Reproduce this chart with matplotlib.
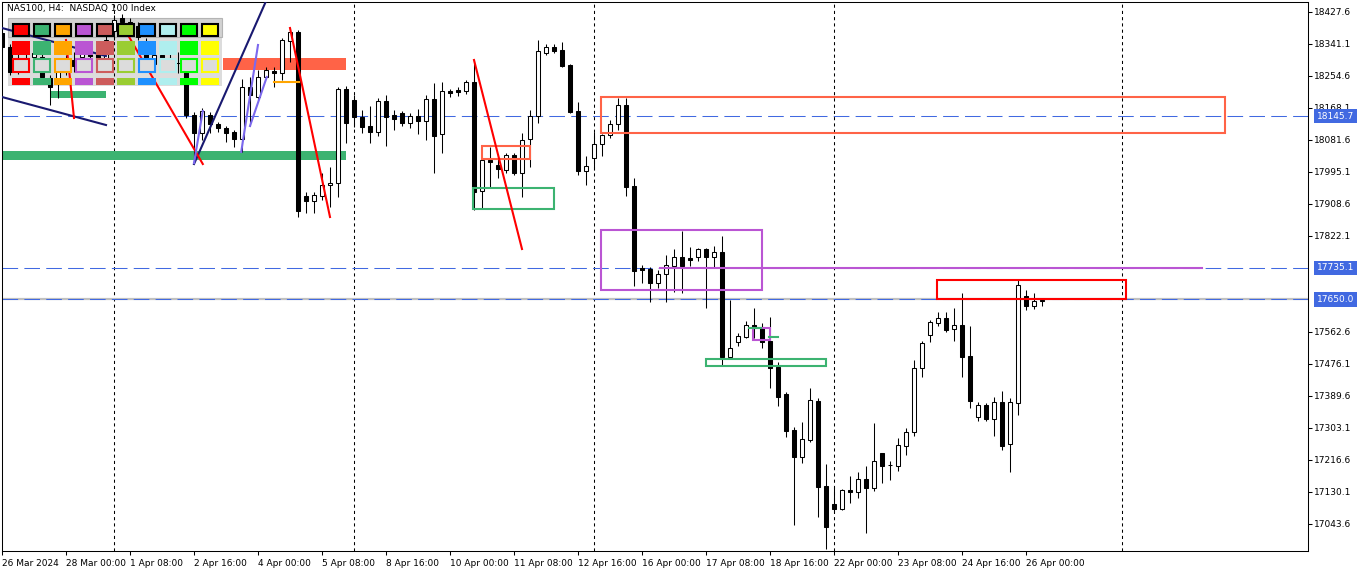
import matplotlib
matplotlib.use("Agg")
import matplotlib.pyplot as plt
from matplotlib.patches import Rectangle
import numpy as np

title = "NAS100, H4:  NASDAQ 100 Index"

# H4 candles, bar 0 = 26 Mar 2024 16:00
opens = [
    18370.3, 18332.5, 18270.3, 18302.7, 18305.4, 18305.4, 18248.7, 18235.2, 18264.9, 18297.3,
    18305.4, 18316.2, 18316.2, 18302.7, 18375.7, 18410.9, 18400.0, 18389.2, 18343.3, 18286.5,
    18310.8, 18291.9, 18289.2, 18264.9, 18148.7, 18100.0, 18148.7, 18124.3, 18113.5, 18102.7,
    18083.8, 18224.3, 18197.3, 18251.4, 18267.6, 18262.2, 18348.7, 18373.0, 17929.7, 17916.2,
    17929.7, 17959.4, 17964.9, 18218.9, 18189.2, 18143.2, 18118.9, 18102.7, 18186.5, 18148.7,
    18154.1, 18127.0, 18146.0, 18132.4, 18191.9, 18097.3, 18213.5, 18216.2, 18213.5, 18237.9,
    17943.2, 18027.0, 18013.5, 18000.0, 18040.5, 17991.9, 18083.8, 18146.0, 18316.2, 18332.5,
    18324.3, 18283.8, 18159.5, 17997.3, 18032.4, 18070.3, 18094.6, 18124.3, 18175.7, 17956.7,
    17735.1, 17732.4, 17694.5, 17718.9, 17740.5, 17764.8, 17762.1, 17764.8, 17786.5, 17764.8,
    17778.3, 17494.5, 17535.1, 17548.6, 17581.0, 17575.6, 17537.8, 17467.5, 17394.5, 17297.2,
    17224.2, 17270.2, 17375.6, 17145.8, 17097.2, 17083.7, 17135.0, 17129.6, 17164.8, 17140.4,
    17235.0, 17202.6, 17199.9, 17254.0, 17291.8, 17464.8, 17554.0, 17586.4, 17599.9, 17570.2,
    17581.0, 17497.2, 17332.3, 17364.8, 17326.9, 17372.9, 17259.4, 17370.2, 17659.4, 17632.4,
    17648.6,
]
highs = [
    18400.0, 18340.6, 18318.9, 18324.3, 18329.8, 18318.9, 18256.8, 18275.7, 18310.8, 18318.9,
    18329.8, 18337.9, 18329.8, 18364.9, 18419.0, 18421.7, 18410.9, 18400.0, 18356.8, 18324.3,
    18329.8, 18318.9, 18318.9, 18275.7, 18156.8, 18167.6, 18156.8, 18129.7, 18118.9, 18108.1,
    18246.0, 18251.4, 18270.3, 18278.4, 18278.4, 18356.8, 18383.8, 18378.4, 17940.5, 17940.5,
    17991.9, 18008.1, 18224.3, 18227.0, 18202.7, 18162.2, 18173.0, 18194.6, 18202.7, 18162.2,
    18159.5, 18154.1, 18164.9, 18202.7, 18235.2, 18237.9, 18218.9, 18224.3, 18243.3, 18297.3,
    18029.0, 18062.2, 18040.5, 18045.9, 18045.9, 18100.0, 18162.2, 18351.4, 18340.6, 18340.6,
    18346.0, 18285.5, 18183.8, 18037.8, 18102.7, 18096.0, 18135.1, 18194.6, 18194.6, 17978.4,
    17743.2, 17737.8, 17729.7, 17770.2, 17786.5, 17835.1, 17791.9, 17789.2, 17789.2, 17794.6,
    17821.6, 17648.6, 17559.4, 17591.8, 17627.0, 17586.4, 17602.6, 17481.0, 17399.9, 17305.3,
    17318.8, 17410.7, 17383.7, 17205.3, 17143.1, 17137.7, 17172.9, 17183.7, 17199.9, 17316.1,
    17236.0, 17213.4, 17275.6, 17302.6, 17486.4, 17537.8, 17594.5, 17616.2, 17616.2, 17627.0,
    17667.5, 17578.3, 17372.9, 17370.2, 17386.4, 17402.6, 17383.7, 17705.4, 17675.6, 17667.5,
    17654.0,
]
lows = [
    18324.3, 18256.8, 18259.5, 18281.1, 18297.3, 18243.3, 18175.7, 18194.6, 18256.8, 18264.9,
    18291.9, 18297.3, 18291.9, 18291.9, 18351.4, 18383.8, 18373.0, 18351.4, 18291.9, 18275.7,
    18281.1, 18281.1, 18262.2, 18140.5, 18032.4, 18081.1, 18100.0, 18102.7, 18075.7, 18062.2,
    18048.6, 18118.9, 18189.2, 18246.0, 18224.3, 18243.3, 18291.9, 17872.9, 17883.8, 17883.8,
    17918.9, 17900.0, 17927.0, 18073.0, 18116.2, 18100.0, 18073.0, 18091.9, 18064.9, 18108.1,
    18118.9, 18113.5, 18097.3, 18081.1, 17991.9, 18045.9, 18197.3, 18200.0, 18205.4, 17891.9,
    17897.3, 17951.3, 17978.4, 17991.9, 17986.5, 17927.0, 18008.1, 18127.0, 18310.8, 18316.2,
    18278.4, 18154.1, 17986.5, 17959.4, 18000.0, 18037.8, 18086.5, 18108.1, 17929.7, 17686.4,
    17694.5, 17643.2, 17681.0, 17643.2, 17670.2, 17667.5, 17740.5, 17754.0, 17627.0, 17737.8,
    17472.9, 17491.8, 17524.3, 17545.9, 17545.9, 17518.9, 17410.7, 17362.1, 17278.3, 17040.4,
    17208.0, 17264.8, 17062.0, 16975.6, 17072.9, 17081.0, 17099.9, 17113.4, 17018.8, 17132.3,
    17154.0, 17162.1, 17186.4, 17229.6, 17281.0, 17440.5, 17535.1, 17578.3, 17562.1, 17537.8,
    17440.5, 17356.7, 17321.5, 17321.5, 17281.0, 17243.1, 17183.7, 17337.8, 17621.6, 17624.3,
    17632.4,
]
closes = [
    18332.5, 18264.9, 18302.7, 18289.2, 18316.2, 18251.4, 18224.3, 18264.9, 18297.3, 18281.1,
    18316.2, 18308.1, 18302.7, 18351.4, 18405.4, 18400.0, 18386.5, 18359.5, 18302.7, 18310.8,
    18291.9, 18302.7, 18288.6, 18148.7, 18100.0, 18159.5, 18124.3, 18113.5, 18100.0, 18083.8,
    18224.3, 18202.7, 18251.4, 18270.3, 18262.2, 18351.4, 18373.0, 17889.2, 17916.2, 17932.4,
    17959.4, 17964.9, 18218.9, 18127.0, 18143.2, 18116.2, 18102.7, 18186.5, 18143.2, 18137.8,
    18127.0, 18146.0, 18132.4, 18191.9, 18091.9, 18213.5, 18208.1, 18210.8, 18237.9, 17940.5,
    18027.0, 18021.6, 18002.7, 18040.5, 17991.9, 18081.1, 18146.0, 18321.6, 18332.5, 18321.6,
    18281.1, 18156.8, 17997.3, 18010.8, 18070.3, 18094.6, 18124.3, 18175.7, 17954.0, 17727.0,
    17729.7, 17694.5, 17718.9, 17743.2, 17764.8, 17740.5, 17756.7, 17786.5, 17764.8, 17778.3,
    17494.5, 17518.9, 17551.3, 17581.0, 17575.6, 17535.1, 17464.8, 17386.4, 17294.5, 17224.2,
    17272.9, 17378.3, 17143.1, 17035.0, 17083.7, 17135.0, 17129.6, 17164.8, 17140.4, 17213.4,
    17199.9, 17202.6, 17256.7, 17291.8, 17464.8, 17532.4, 17589.1, 17599.9, 17567.5, 17581.0,
    17494.5, 17375.6, 17364.8, 17326.9, 17372.9, 17254.0, 17372.9, 17689.1, 17632.4, 17645.9,
    17646.5,
]

date_ticks = [0, 8, 16, 24, 32, 40, 48, 56, 64, 72, 80, 88, 96, 104, 112, 120, 128]
date_labels = [
    "26 Mar 2024", "28 Mar 00:00", "1 Apr 08:00", "2 Apr 16:00", "4 Apr 00:00",
    "5 Apr 08:00", "8 Apr 16:00", "10 Apr 00:00", "11 Apr 08:00", "12 Apr 16:00",
    "16 Apr 00:00", "17 Apr 08:00", "18 Apr 16:00", "22 Apr 00:00", "23 Apr 08:00",
    "24 Apr 16:00", "26 Apr 00:00",
]
price_ticks = [18427.6, 18341.1, 18254.6, 18168.1, 18081.6, 17995.1, 17908.6, 17822.1,
               17562.6, 17476.1, 17389.6, 17303.1, 17216.6, 17130.1, 17043.6]
price_levels = [18145.7, 17735.1, 17650.0]
bid_price = 17650.0
week_separators = [14, 44, 74, 104, 140]

# chart objects: (first bar, last bar, low price, high price)
box_zones = [
    (74.9, 152.9, 18100.0, 18197.3),
    (74.9, 95.0, 17675.6, 17837.8),
    (116.9, 140.5, 17650.9, 17702.0),
    (88.0, 103.0, 17470.2, 17489.1),
    (93.9, 96.0, 17540.5, 17572.9),
    (58.9, 69.0, 17894.7, 17951.3),
    (60.0, 66.0, 18029.7, 18064.9),
]
box_colors = ["#FF6347", "#BA55D3", "#FF0000", "#3CB371", "#BA55D3", "#3CB371", "#FF6347"]

filled_zones = [
    (27.6, 43.0, 18270.3, 18302.7),
    (0.0, 43.0, 18027.0, 18051.4),
    (6.0, 13.0, 18194.6, 18213.5),
]
filled_colors = ["#FF6347", "#3CB371", "#3CB371"]

# trend lines: (bar a, price a, bar b, price b)
trend_lines = [
    (0.0, 18197.3, 13.0, 18121.6),
    (0.0, 18383.8, 13.0, 18308.1),
    (24.0, 18016.2, 33.5, 18480.8),
    (15.6, 18370.3, 25.1, 18016.2),
    (8.0, 18351.4, 9.0, 18140.5),
    (36.0, 18383.8, 41.0, 17872.9),
    (59.0, 18297.3, 65.0, 17786.4),
    (24.0, 18018.9, 25.1, 18159.5),
    (29.9, 18048.7, 32.0, 18337.9),
    (31.0, 18118.9, 33.1, 18251.4),
    (34.0, 18237.9, 37.1, 18237.9),
    (82.2, 17735.1, 150.0, 17735.1),
    (93.4, 17573.0, 94.9, 17573.0),
    (95.9, 17548.0, 97.0, 17548.0),
]
line_colors = ["#191970", "#191970", "#191970", "#FF0000", "#FF0000", "#FF0000", "#FF0000",
               "#7B68EE", "#7B68EE", "#7B68EE", "#FFA500", "#BA55D3", "#3CB371", "#3CB371"]

panel_colors = ["#FF0000", "#3CB371", "#FFA500", "#BA55D3", "#CD5C5C",
                "#9ACD32", "#1E90FF", "#AFEEEE", "#00FF00", "#FFFF00"]

W, H = 1362, 576
fig = plt.figure(figsize=(W / 100, H / 100), dpi=100)
fig.patch.set_facecolor("white")

# panel background sits under the candles
bg = fig.add_axes([0, 0, 1, 1], zorder=0)
bg.set_xlim(0, W)
bg.set_ylim(H, 0)
bg.axis("off")
bg.add_patch(Rectangle((8, 18), 214, 68, facecolor="#DCDCDC", edgecolor="none"))
bg.add_patch(Rectangle((8, 18), 214, 19, facecolor="#D2D2D2", edgecolor="#B4B4B4", lw=0.8))

ax = fig.add_axes([2 / W, 25 / H, 1306 / W, 549 / H], zorder=1)
ax.patch.set_alpha(0)
ax.set_xlim(0, 163.25)
ax.set_ylim(16970.1, 18454.1)

o = np.array(opens)
h = np.array(highs)
l = np.array(lows)
c = np.array(closes)
x = np.arange(len(o))
up = c >= o

for b in week_separators:
    ax.axvline(b, color="black", lw=0.75, dashes=(3, 3), zorder=1)

ax.axhline(bid_price, color="#C0C0C0", lw=1.6, zorder=1)
for p in price_levels:
    ax.axhline(p, color="#4169E1", lw=0.75, dashes=(15, 6), zorder=1.5)

for (k0, k1, p0, p1), col in zip(filled_zones, filled_colors):
    ax.add_patch(Rectangle((k0, p0), k1 - k0, p1 - p0, facecolor=col, edgecolor="none", zorder=2))

ax.vlines(x, l, h, color="black", lw=0.75, zorder=3)
ax.bar(x[up], (c - o)[up], bottom=o[up], width=0.6, color="white",
       edgecolor="black", lw=0.75, zorder=4)
ax.bar(x[~up], (o - c)[~up], bottom=c[~up], width=0.6, color="black",
       edgecolor="black", lw=0.75, zorder=4)

for (k0, k1, p0, p1), col in zip(box_zones, box_colors):
    ax.add_patch(Rectangle((k0, p0), k1 - k0, p1 - p0, facecolor="none",
                           edgecolor=col, lw=1.5, zorder=5))

for (k0, p0, k1, p1), col in zip(trend_lines, line_colors):
    ax.plot([k0, k1], [p0, p1], color=col, lw=1.5, zorder=5)

for s in ax.spines.values():
    s.set_color("black")
    s.set_linewidth(0.75)

ax.yaxis.tick_right()
ax.set_yticks(price_ticks)
ax.set_yticklabels([f"{p:.1f}" for p in price_ticks])
ax.tick_params(axis="y", length=3, width=0.75, pad=1.5, labelsize=6.5)
ax.set_xticks(date_ticks)
ax.set_xticklabels(date_labels, ha="left")
ax.tick_params(axis="x", length=3, width=0.75, pad=3, labelsize=6.5)

for p in price_levels:
    ax.text(1.0067, p, f"{p:.1f}", transform=ax.get_yaxis_transform(), ha="left",
            va="center", color="white", fontsize=6.5, clip_on=False, zorder=6,
            bbox=dict(boxstyle="square,pad=0.3", fc="#4169E1", ec="none"))

# colour picker panel and title on top
fg = fig.add_axes([0, 0, 1, 1], zorder=2)
fg.set_xlim(0, W)
fg.set_ylim(H, 0)
fg.axis("off")
for i, col in enumerate(panel_colors):
    x0 = 12 + 21 * i
    fg.add_patch(Rectangle((x0 + 1, 23.5), 15.5, 12, facecolor=col, edgecolor="black", lw=1.5))
    fg.add_patch(Rectangle((x0, 41), 18, 14, facecolor=col, edgecolor="none"))
    fg.add_patch(Rectangle((x0 + 1, 59), 16, 12.5, facecolor="#DCDCDC", edgecolor=col, lw=1.5))
    fg.add_patch(Rectangle((x0, 77.5), 18, 7, facecolor=col, edgecolor="none"))
fg.text(7, 9, title, fontsize=6.5, va="center", ha="left", color="black")

fig.savefig("out.png", dpi=100)
